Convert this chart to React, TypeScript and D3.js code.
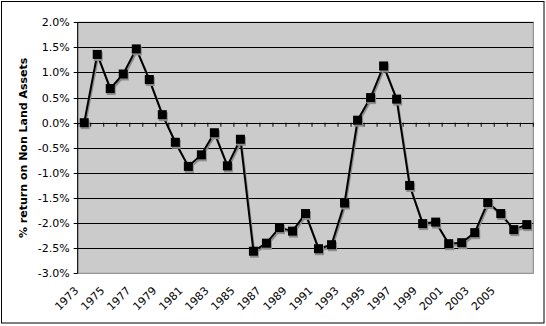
import React from "react";
import * as d3 from "d3";

const years: number[] = [
  1973, 1974, 1975, 1976, 1977, 1978, 1979, 1980, 1981, 1982, 1983, 1984,
  1985, 1986, 1987, 1988, 1989, 1990, 1991, 1992, 1993, 1994, 1995, 1996,
  1997, 1998, 1999, 2000, 2001, 2002, 2003, 2004, 2005, 2006, 2007,
];
const returns: number[] = [
  0.0, 1.36, 0.68, 0.97, 1.47, 0.86, 0.16, -0.39, -0.87, -0.64, -0.2, -0.86,
  -0.33, -2.56, -2.4, -2.09, -2.16, -1.81, -2.51, -2.43, -1.6, 0.05, 0.5,
  1.13, 0.47, -1.25, -2.01, -1.98, -2.41, -2.39, -2.19, -1.59, -1.81, -2.13,
  -2.03,
];
const yTicks: number[] = [-3.0, -2.5, -2.0, -1.5, -1.0, -0.5, 0.0, 0.5, 1.0, 1.5, 2.0];
const xLabels: number[] = years.filter((_, i) => i % 2 === 0 && i < 34);
const yTitle = "% return on Non Land Assets";

const W = 546;
const H = 326;
const L = 77.7;
const R = 533.3;
const T = 22.3;
const B = 273.3;
const FONT = "'DejaVu Sans', Verdana, sans-serif";

export default function App() {
  const x = d3.scaleBand<number>().domain(years).range([L, R]).paddingInner(0).paddingOuter(0);
  const bw = x.bandwidth();
  const cx = (yr: number) => (x(yr) as number) + bw / 2;
  const y = d3.scaleLinear().domain([-3, 2]).range([B, T]);

  const line = d3
    .line<number>()
    .x((_, i) => cx(years[i]))
    .y((d) => y(d));
  const path = line(returns) || "";

  const boundaries = d3.range(years.length + 1).map((i) => L + i * bw);
  const ms = 9;

  return (
    <svg
      width={W}
      height={H}
      style={{ position: "fixed", left: 0, top: 0, background: "#fff" }}
      fontFamily={FONT}
    >
      <rect x={0} y={0} width={W} height={H} fill="#fff" />
      <rect x={1.5} y={1.5} width={542.5} height={321.5} fill="none" stroke="#000" strokeWidth={1} />
      {/* plot area */}
      <rect x={L} y={T} width={R - L} height={B - T} fill="#cbcbcb" stroke="#808080" strokeWidth={1} />
      {/* gridlines */}
      {yTicks.filter((t) => t > -3).map((t) => (
        <line key={"g" + t} x1={L} x2={R} y1={Math.round(y(t)) + 0.5} y2={Math.round(y(t)) + 0.5} stroke="#000" strokeWidth={1} />
      ))}
      {/* y axis */}
      <line x1={L} x2={L} y1={T} y2={B} stroke="#000" strokeWidth={1} />
      {yTicks.map((t) => (
        <g key={"yt" + t}>
          <line x1={L - 4} x2={L} y1={Math.round(y(t)) + 0.5} y2={Math.round(y(t)) + 0.5} stroke="#000" />
          <text x={L - 8} y={y(t)} dy="0.36em" textAnchor="end" fontSize={11} fill="#000">
            {t.toFixed(1) + "%"}
          </text>
        </g>
      ))}
      {/* x axis at zero with ticks */}
      {boundaries.map((bx, i) => (
        <line key={"xt" + i} x1={bx} x2={bx} y1={y(0)} y2={y(0) + 4} stroke="#000" />
      ))}
      {/* line shadow */}
      <path d={path} fill="none" stroke="#8c8c8c" strokeWidth={2} transform="translate(1,2)" strokeLinejoin="round" />
      <path d={path} fill="none" stroke="#000" strokeWidth={2} strokeLinejoin="round" />
      {/* markers */}
      {returns.map((v, i) => (
        <rect key={"ms" + i} x={cx(years[i]) - ms / 2 + 1} y={y(v) - ms / 2 + 2} width={ms} height={ms} fill="#8c8c8c" />
      ))}
      {returns.map((v, i) => (
        <rect key={"m" + i} x={cx(years[i]) - ms / 2} y={y(v) - ms / 2} width={ms} height={ms} fill="#000" />
      ))}
      {/* x labels */}
      {xLabels.map((yr) => (
        <text
          key={"xl" + yr}
          transform={`translate(${cx(yr) - 5},${B + 18}) rotate(-45)`}
          textAnchor="end"
          fontSize={11}
          fill="#000"
        >
          {yr}
        </text>
      ))}
      {/* y title */}
      <text
        transform={`translate(27,${(T + B) / 2}) rotate(-90)`}
        textAnchor="middle"
        fontSize={11}
        fontWeight="bold"
        fill="#000"
      >
        {yTitle}
      </text>
    </svg>
  );
}
